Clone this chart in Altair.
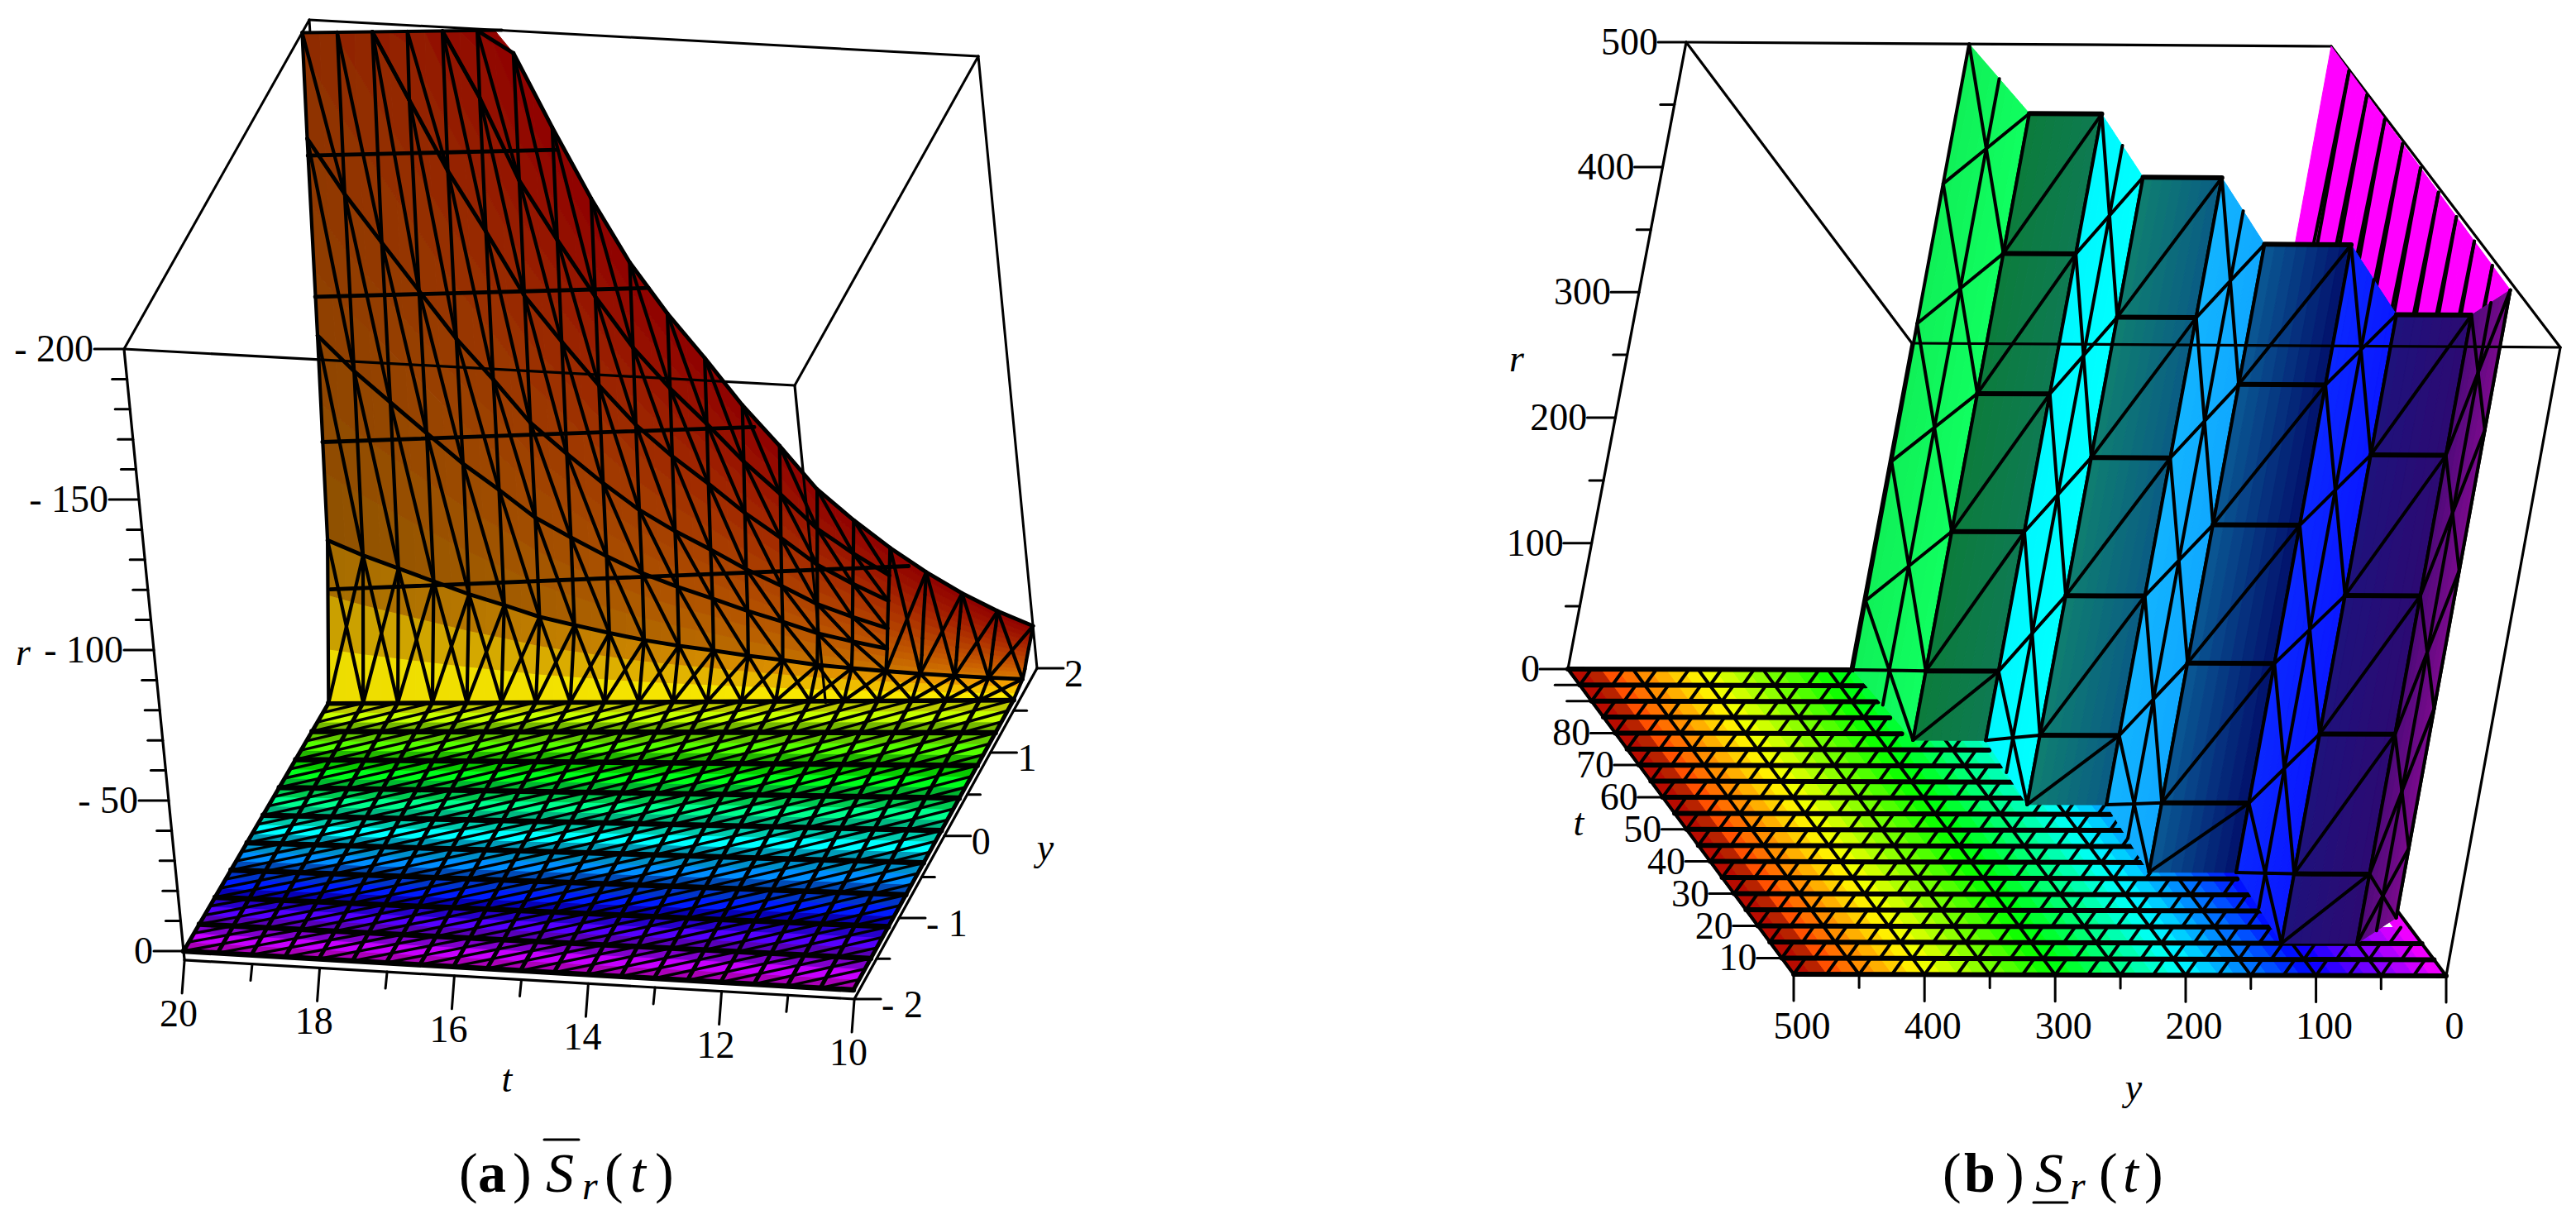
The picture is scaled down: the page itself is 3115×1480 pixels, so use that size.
import colorsys
import numpy as np
import altair as alt

alt.data_transformers.disable_max_rows()

# ---------- panel (a) values ----------
a_box = {(20, -2, 0): (222, 1150), (10, -2, 0): (1032, 1197), (10, 2, 0): (1253, 797), (20, 2, 0): (422, 808),
         (20, -2, 200): (150, 422), (10, -2, 200): (961, 466), (10, 2, 200): (1183, 68), (20, 2, 200): (374, 24)}
a_wall_t = [20, 19.5, 19, 18.5, 18, 17.5, 17, 16.5, 16, 15.5, 15, 14.5, 14, 13.5, 13, 12.5, 12, 11.5, 11, 10.5, 10]
a_wall_top = [400, 360, 325, 290, 255, 225, 193, 170, 148, 128, 112, 98, 83, 70, 56, 46, 37, 29, 22, 16, 11]
a_wall_y = [1.52, 1.72, 1.78, 1.82, 1.88, 1.94, 2.0]
a_wall_share = [0, .115, .27, .42, .62, .8, 1]
a_clip_y = 1.85
a_clip_t = 17.15
a_flat_r = [163, 120, 76, 31]
a_flat_t_end = [16.45, 15.25, 13.85, 11.75]
a_flat_y_start = [1.81, 1.78, 1.74, 1.71]
a_t_major = [20, 18, 16, 14, 12, 10]
a_t_minor = [19, 17, 15, 13, 11]
a_y_major = [-2, -1, 0, 1, 2]
a_y_minor = [-1.5, -.5, .5, 1.5]
a_r_major = [0, 50, 100, 150, 200]
a_r_minor = [10, 20, 30, 40, 60, 70, 80, 90, 110, 120, 130, 140, 160, 170, 180, 190]

# ---------- panel (b) values ----------
b_box = {(5, 500, 0): (2169, 1178), (5, 0, 0): (2958, 1180), (100, 0, 0): (2681, 811), (100, 500, 0): (1896, 809),
         (5, 500, 500): (2312, 415), (5, 0, 500): (3096, 420), (100, 0, 500): (2819, 56), (100, 500, 500): (2039, 51)}
b_stair_t = [100, 78, 78, 58, 58, 37, 37, 15, 15, 23, 100]
b_stair_y = [281, 275, 219, 224, 163, 169, 102, 108, 50, 5, 0]
b_face_left = ["#10f058", "#0c7c3c", "#00f8ff", "#0f7f70", "#12b4ff", "#0a5a94", "#0a28ff", "#1e127c", "#4e0a7a", "#ff00ff"]
b_face_right = ["#10ff60", "#0e7a52", "#00ffff", "#0a5c84", "#10a8ff", "#02106c", "#0a18ff", "#2c0a72", "#7a0a8c", "#ff00ff"]
b_r_rows = [0, 55, 166, 276, 388, 500]
b_t_major = [10, 20, 30, 40, 50, 60, 70, 80]
b_t_minor = [90, 95]
b_y_major = [500, 400, 300, 200, 100, 0]
b_y_minor = [450, 350, 250, 150, 50]
b_r_major = [0, 100, 200, 300, 400, 500]
b_r_minor = [50, 150, 250, 350, 450]


def camera(box):
    keys = np.array(list(box.keys()), float)
    lo, hi = keys.min(0), keys.max(0)
    A = []
    for k, (u, v) in box.items():
        p = (np.array(k, float) - lo) / (hi - lo)
        u2, v2 = (u - 1500) / 1500, (v - 700) / 700
        q = [*p, 1]
        A.append(q + [0, 0, 0, 0] + [-u2 * c for c in q])
        A.append([0, 0, 0, 0] + q + [-v2 * c for c in q])
    P = np.linalg.svd(np.array(A))[2][-1].reshape(3, 4)

    def raw(p):
        h = P @ np.array([*p, 1])
        return np.array([h[0] / h[2] * 1500 + 1500, h[1] / h[2] * 700 + 700])

    # what the single camera misses at each corner is spread over the box, so the corners stay put
    res = {tuple(np.round((np.array(k, float) - lo) / (hi - lo)).astype(int)): np.array(v, float) - raw((np.array(k, float) - lo) / (hi - lo))
           for k, v in box.items()}

    def proj(a, b, c):
        p = (np.array([a, b, c], float) - lo) / (hi - lo)
        out = raw(p)
        for key, dv in res.items():
            w = 1.0
            for n in range(3):
                w *= p[n] if key[n] else 1 - p[n]
            out = out + w * dv
        return float(out[0]), float(out[1])
    return proj


pa, pb = camera(a_box), camera(b_box)
DOM_X = alt.Scale(domain=[8, 3107], nice=False, zero=False)
DOM_Y = alt.Scale(domain=[1472, 8], nice=False, zero=False)
layers = []


def hexcol(h, s, v):
    r, g, b = colorsys.hsv_to_rgb((h % 360) / 360, min(s, 1), min(max(v, 0), 1))
    return "#%02x%02x%02x" % (round(r * 255), round(g * 255), round(b * 255))


def add_polys(polys):
    feats = []
    for pts, col in polys:
        ring = [[round(x, 1), round(y, 1)] for x, y in pts]
        area = sum(ring[i][0] * ring[(i + 1) % len(ring)][1] - ring[(i + 1) % len(ring)][0] * ring[i][1] for i in range(len(ring)))
        if area < 0:
            ring = ring[::-1]
        ring.append(ring[0])
        feats.append({"type": "Feature", "properties": {"c": col}, "geometry": {"type": "Polygon", "coordinates": [ring]}})
    layers.append(alt.Chart(alt.Data(values=feats)).mark_geoshape(strokeWidth=1).encode(
        color=alt.Color("properties.c:N", scale=None, legend=None),
        stroke=alt.Stroke("properties.c:N", scale=None, legend=None)).project(type="identity", scale=1, translate=[-8, -8]))


def add_lines(lines, width):
    rows = []
    for i, ln in enumerate(lines):
        for k, (x, y) in enumerate(ln):
            rows.append({"x": round(x, 1), "y": round(y, 1), "id": i, "k": k})
    layers.append(alt.Chart(alt.Data(values=rows)).mark_line(color="black", strokeWidth=width, strokeCap="round", strokeJoin="round").encode(
        x=alt.X("x:Q", scale=DOM_X, axis=None), y=alt.Y("y:Q", scale=DOM_Y, axis=None), detail="id:N", order="k:Q"))


def add_text(rows, align="center", size=46, style="normal", weight="normal", color="black"):
    layers.append(alt.Chart(alt.Data(values=[{"x": r[0], "y": r[1], "s": r[2]} for r in rows])).mark_text(
        font="Liberation Serif", fontSize=size, fontStyle=style, fontWeight=weight, align=align, baseline="alphabetic", color=color).encode(
        x=alt.X("x:Q", scale=DOM_X, axis=None), y=alt.Y("y:Q", scale=DOM_Y, axis=None), text="s:N"))


# ================= panel (a) =================
Y0 = a_wall_y[0]
BAND = (Y0 + 2) / 9


def ahue(y):
    return 300 - (y + 2) / (Y0 + 2) * 240 if y <= Y0 else 60 * (2 - y) / (2 - Y0)


add_lines([[pa(20, 2, 200), pa(10, 2, 200)], [pa(20, -2, 200), pa(20, 2, 200)], [pa(10, -2, 200), pa(10, 2, 200)],
           [pa(10, 2, 200), pa(10, 2, -3)], [pa(20, 2, 200), pa(20, 2, 180)]], 3)

polys = []
for k in range(27):
    y0, y1 = -2 + k * BAND / 3, -2 + (k + 1) * BAND / 3
    v = [.72, 1, .8][k % 3]
    polys.append(([pa(20, y0, 0), pa(10, y0, 0), pa(10, y1, 0), pa(20, y1, 0)], hexcol(ahue((y0 + y1) / 2), 1, v)))
add_polys(polys)
thin = []
for k in range(9):
    y0 = -2 + k * BAND
    for t in np.arange(10.5, 21.6, .5):
        f0 = max(0, (t - 20) / 1.5)
        f1 = min(1, (t - 10) / 1.5)
        thin.append([pa(t - 1.5 * f0, y0 + BAND * f0, 0), pa(t - 1.5 * f1, y0 + BAND * f1, 0)])
add_lines(thin, 3.4)
add_lines([[pa(t, -2, 0), pa(t, Y0, 0)] for t in np.arange(10, 20.01, .5)], 5)
add_lines([[pa(20, -2 + k * BAND, 0), pa(10, -2 + k * BAND, 0)] for k in range(10)], 6.5)

nT, nY = len(a_wall_t), len(a_wall_y)


def wall(i, j):
    fi, fj = min(int(i), nT - 2), min(int(j), nY - 2)
    di, dj = i - fi, j - fj
    t = a_wall_t[fi] * (1 - di) + a_wall_t[fi + 1] * di
    y = a_wall_y[fj] * (1 - dj) + a_wall_y[fj + 1] * dj
    top = a_wall_top[fi] * (1 - di) + a_wall_top[fi + 1] * di
    sh = a_wall_share[fj] * (1 - dj) + a_wall_share[fj + 1] * dj
    if top * sh >= 200:
        # beyond the top of the box: the surface is cut off along the edge seen at the top
        return t, a_clip_y + (20 - t) / (20 - a_clip_t) * (2 - a_clip_y), 200
    return t, y, top * sh


polys = []
for j3 in range(3 * (nY - 1)):
    for i2 in range(2 * (nT - 1)):
        i, j = i2 / 2, j3 / 3
        t, y, _ = wall(i + .25, j + 1 / 6)
        s = (20 - t) / 10
        jm = j + 1 / 6
        if jm < 1:
            v = min(1, 1 - .42 * jm + .38 * s * jm)
        else:
            v = .56 + .3 * s * (1 - (jm - 1) / 5)
        q = [wall(i, j), wall(i + .5, j), wall(i + .5, j + 1 / 3), wall(i, j + 1 / 3)]
        polys.append(([pa(*p) for p in q], hexcol(ahue(y), 1, v)))
add_polys(polys)


def seg(n0, n1):
    a, b = wall(*n0), wall(*n1)
    if a[2] >= 200 and b[2] >= 200:
        return None
    return [pa(*a), pa(*b)]


lines, heavy = [], []
COARSE = 16   # from here on (small heights) only the base, middle and top rows are meshed
for i in range(nT):
    for j in range(nY - 1):
        lines.append(seg((i, j), (i, j + 1)))
for i in range(nT - 1):
    lines.append(seg((i, 0), (i + 1, 1)))
    lines.append(seg((i, 1), (i + 1, 0)))
    if i < COARSE:
        for j in range(1, nY - 1):
            lines.append(seg((i, j + 1), (i + 1, j)))
    else:
        lines.append(seg((i, nY - 1), (i + 1, 1)))
        lines.append(seg((i, 1), (i + 1, nY - 1)))
for j in range(nY):
    for i in range(nT - 1):
        if i < COARSE or j in (0, 1, nY - 1):
            heavy.append(seg((i, j), (i + 1, j)))
add_lines([l for l in lines if l], 4.2)
add_lines([l for l in heavy if l], 4.8)
add_lines([[pa(20, ys, r), pa(te, 2, r)] for r, te, ys in zip(a_flat_r, a_flat_t_end, a_flat_y_start)], 4.8)
add_lines([[pa(20, a_clip_y, 200), pa(a_clip_t, 2, 200)]], 4)

add_lines([[pa(20, -2, 200), pa(10, -2, 200)], [pa(10, -2, 200), pa(10, -2, 95)],
           [pa(20, -2, 200), pa(20, -2, 0)], [pa(20, -2, 0), pa(20, -2, -3)], [pa(20, -2, -3), pa(10, -2, -3)], [pa(10, -2, -3), pa(10, 2, -3)]], 3.2)
tk = []
for r in a_r_major:
    x, y = pa(20, -2, r); tk.append([(x, y), (x - 36, y)])
for r in a_r_minor:
    x, y = pa(20, -2, r); tk.append([(x, y), (x - 18, y)])
for t in a_t_major:
    x, y = pa(t, -2, -3); tk.append([(x, y), (x - 3, y + 40)])
for t in a_t_minor:
    x, y = pa(t, -2, -3); tk.append([(x, y), (x - 2, y + 20)])
for v in a_y_major:
    x, y = pa(10, v, -3); tk.append([(x, y), (x + 32, y)])
for v in a_y_minor:
    x, y = pa(10, v, -3); tk.append([(x, y), (x + 16, y)])
add_lines(tk, 3)
rows = []
for r in a_r_major:
    x, y = pa(20, -2, r)
    rows.append((x - 37, y + 15, ("- %d" % r) if r else "0"))
add_text(rows, align="right")
add_text([(pa(t, -2, -3)[0] - 7, pa(t, -2, -3)[1] + 80, str(t)) for t in a_t_major])
add_text([(pa(10, v, -3)[0] + 33, pa(10, v, -3)[1] + 22, ("- %d" % -v) if v < 0 else str(v)) for v in a_y_major], align="left")
add_text([(28, 804, "r"), (613, 1320, "t"), (1264, 1040, "y")], style="italic")


# ================= panel (b) =================
def bhue(y):
    return 300 * (1 - y / 500)


def stair_y(t):
    if t <= 15:
        return -1
    if t <= 37:
        return 105
    if t <= 58:
        return 165
    if t <= 78:
        return 222
    return 275 + (t - 78) / 22 * 6


def is_floor(t, y):
    if 15 < t <= 23 and y < 50 - (t - 15) / 8 * 45:
        return True
    return y > stair_y(t)


add_lines([[pb(100, 500, 500), pb(100, 0, 500)], [pb(100, 500, 500), pb(5, 500, 500)], [pb(100, 0, 500), pb(5, 0, 500)],
           [pb(100, 500, 500), pb(100, 500, 0)]], 3.2)

polys = []
for tj in np.arange(5, 100, 5):
    for yk in np.arange(0, 500, 12.5):
        ym = yk + 6.25
        if not (is_floor(tj, yk + 12.5) or is_floor(tj + 5, yk)):
            continue
        v = .72 if ym > 480 else 1
        polys.append(([pb(tj, yk, 0), pb(tj, yk + 12.5, 0), pb(tj + 5, yk + 12.5, 0), pb(tj + 5, yk, 0)], hexcol(bhue(ym), 1, v)))
add_polys(polys)
lines = []
for tj in np.arange(5, 100, 5):
    for yk in np.arange(0, 501, 50):
        if is_floor(tj + 2.5, yk):
            lines.append([pb(tj, yk, 0), pb(tj + 5, yk, 0)])
    for yk in np.arange(0, 540, 25):
        y0, y1 = yk, yk - 18
        if y0 > 500:
            continue
        if is_floor(tj + 2.5, (y0 + y1) / 2) and y1 >= 0:
            lines.append([pb(tj, y0, 0), pb(tj + 5, y1, 0)])
add_lines(lines, 4)
add_lines([[pb(tj, 500, 0), pb(tj, 280, 0)] if tj > 78 else
           [pb(tj, 500, 0), pb(tj, 222 if tj > 58 else 165 if tj > 37 else 105 if tj > 15 else 0, 0)] for tj in np.arange(5, 100.1, 5)], 6)


def face_fill(k, a, b, n=8):
    polys = []
    ca = np.array([int(b_face_left[k][i:i + 2], 16) for i in (1, 3, 5)], float)
    cb = np.array([int(b_face_right[k][i:i + 2], 16) for i in (1, 3, 5)], float)
    for m in range(n):
        u0, u1 = m / n, (m + 1) / n
        c = ca + (cb - ca) * (u0 + u1) / 2
        t0, y0 = a[0] + (b[0] - a[0]) * u0, a[1] + (b[1] - a[1]) * u0
        t1, y1 = a[0] + (b[0] - a[0]) * u1, a[1] + (b[1] - a[1]) * u1
        polys.append(([pb(t0, y0, 0), pb(t1, y1, 0), pb(t1, y1, 500), pb(t0, y0, 500)], "#%02x%02x%02x" % tuple(int(round(x)) for x in c)))
    add_polys(polys)


def at(a, b, u, r):
    return pb(a[0] + (b[0] - a[0]) * u, a[1] + (b[1] - a[1]) * u, r)


order = [9] + list(range(9))
for k in order:
    a = (b_stair_t[k], b_stair_y[k])
    b = (b_stair_t[k + 1], b_stair_y[k + 1])
    face_fill(k, a, b)
    lines, heavy = [], []
    kind = "magenta" if k == 9 else ("strip" if k in (0, 2, 4, 6, 8) else "wall")
    if kind == "wall":
        for r0, r1 in zip(b_r_rows[:-1], b_r_rows[1:]):
            lines.append([at(a, b, 0, r0), at(a, b, 1, r1)])
            heavy.append([at(a, b, 0, r1), at(a, b, 1, r1)])
        lines += [[at(a, b, 0, 0), at(a, b, 0, 500)], [at(a, b, 1, 0), at(a, b, 1, 500)]]
    elif kind == "strip":
        lines += [[at(a, b, 0, 0), at(a, b, 0, 500)], [at(a, b, 1, 0), at(a, b, 1, 500)], [at(a, b, .5, 0), at(a, b, .5, 500)]]
        for r0, r1 in zip(b_r_rows[:-1], b_r_rows[1:]):
            rm = (r0 + r1) / 2
            lines += [[at(a, b, 0, r0), at(a, b, .5, rm), at(a, b, 0, r1)], [at(a, b, 1, r0), at(a, b, .5, rm), at(a, b, 1, r1)]]
    else:
        for m in range(0, 10):
            lines.append([at(a, b, m / 10, 0), at(a, b, m / 10, 500)])
            lines.append([at(a, b, m / 10, 500), at(a, b, (m + .6) / 10, 0)])
    add_lines(lines, 4)
    if heavy:
        add_lines(heavy, 6)

add_lines([[pb(5, 500, 500), pb(5, 0, 500)], [pb(5, 500, 500), pb(5, 500, 240)], [pb(5, 0, 500), pb(5, 0, 0)],
           [pb(5, 500, 0), pb(5, 0, 0)], [pb(5, 500, 0), pb(100, 500, 0)]], 3.2)
tk = []
for r in b_r_major:
    x, y = pb(100, 500, r); tk.append([(x, y), (x - 34, y)])
for r in b_r_minor:
    x, y = pb(100, 500, r); tk.append([(x, y), (x - 17, y)])
for t in b_t_major + b_t_minor:
    x, y = pb(t, 500, 0); tk.append([(x, y), (x - 30, y)])
for v in b_y_major:
    x, y = pb(5, v, 0); tk.append([(x, y), (x, y + 32)])
for v in b_y_minor:
    x, y = pb(5, v, 0); tk.append([(x, y), (x, y + 16)])
add_lines(tk, 3)
add_text([(pb(100, 500, r)[0] - 34, pb(100, 500, r)[1] + 15, str(r)) for r in b_r_major], align="right")
add_text([(pb(t, 500, 0)[0] - 30, pb(t, 500, 0)[1] + 15, str(t)) for t in b_t_major], align="right")
add_text([(pb(5, v, 0)[0] + 10, 1256, str(v)) for v in b_y_major])
add_text([(1834, 449, "r"), (1909, 1010, "t"), (2580, 1330, "y")], style="italic")

# ================= captions =================
add_text([(555, 1441, "("), (620, 1441, ")"), (731, 1441, "("), (792, 1441, ")"),
          (2349, 1441, "("), (2425, 1441, ")"), (2538, 1441, "("), (2593, 1441, ")")], align="left", size=68)
add_text([(578, 1441, "a"), (2375, 1441, "b")], align="left", size=68, weight="bold")
add_text([(660, 1441, "S"), (762, 1441, "t"), (2461, 1441, "S"), (2567, 1441, "t")], align="left", size=68, style="italic")
add_text([(704, 1450, "r"), (2503, 1450, "r")], align="left", size=48, style="italic")
add_lines([[(658, 1378), (700, 1378)], [(2459, 1454), (2500, 1454)]], 3)

chart = alt.layer(*layers).resolve_scale(color="independent", stroke="independent").properties(
    width=3099, height=1464, padding=0, autosize=alt.AutoSizeParams(type="none")
).configure_view(stroke=None)
chart.save("out.html", embed_options={"renderer": "svg", "actions": False})
